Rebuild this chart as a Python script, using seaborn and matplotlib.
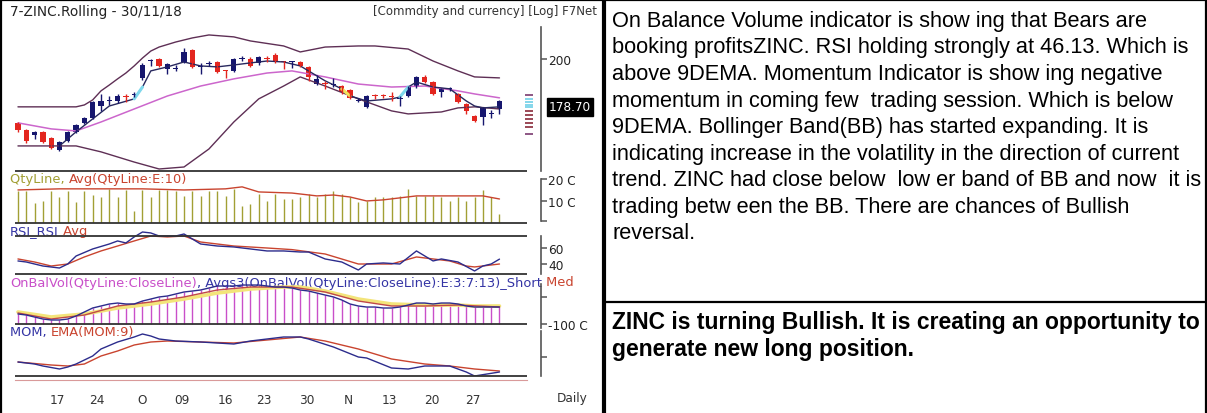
import numpy as np
import pandas as pd
import seaborn as sns
import matplotlib.pyplot as plt
from matplotlib.lines import Line2D
from matplotlib.ticker import NullLocator

W, H = 1207, 414

#%% data (daily candles, 59 sessions)
opens = [168.5, 165.3, 163.1, 164.5, 161.8, 156.7, 160.5, 164.5, 168.5, 170.7,
         176.3, 178.7, 178.7, 181.1, 181.6, 190.1, 198.9, 200.0, 194.7, 194.7,
         198.4, 204.9, 195.8, 197.3, 198.4, 194.2, 193.7, 200.0, 200.0, 197.9,
         200.5, 202.2, 198.9, 198.4, 198.4, 195.8, 187.0, 187.5, 186.5, 186.0,
         184.1, 178.7, 175.9, 181.6, 181.6, 181.1, 179.7, 181.1, 185.5, 190.6,
         188.0, 183.1, 184.6, 182.1, 177.3, 171.7, 171.2, 172.6, 174.9]
highs = [168.9, 165.8, 164.9, 164.9, 162.3, 160.5, 164.9, 168.0, 171.2, 178.7,
         182.1, 181.1, 182.1, 182.1, 183.1, 197.9, 200.0, 200.5, 197.9, 196.8,
         206.0, 205.4, 197.9, 198.9, 198.9, 194.2, 200.5, 201.6, 201.1, 201.6,
         201.6, 203.2, 198.9, 198.9, 198.9, 196.3, 191.6, 188.6, 190.1, 186.5,
         184.6, 180.2, 181.6, 182.1, 182.1, 183.1, 181.1, 186.0, 191.1, 191.6,
         188.6, 185.0, 185.5, 182.6, 177.7, 172.1, 175.9, 174.4, 179.2]
lows = [164.5, 159.7, 161.4, 159.7, 157.1, 156.3, 160.1, 164.0, 168.0, 170.3,
        174.0, 176.8, 177.7, 178.2, 180.6, 189.1, 196.3, 195.8, 192.1, 193.7,
        197.9, 195.2, 192.1, 196.3, 192.6, 190.1, 193.2, 198.9, 195.8, 196.8,
        198.4, 197.9, 194.7, 195.2, 195.8, 188.6, 186.5, 184.6, 185.5, 182.1,
        179.7, 178.2, 175.4, 179.7, 180.2, 178.7, 176.3, 180.6, 185.0, 187.5,
        181.6, 180.6, 183.6, 177.7, 172.6, 168.9, 167.6, 170.7, 172.6]
closes = [165.3, 160.5, 164.5, 160.1, 157.5, 160.1, 164.5, 167.6, 170.7, 178.2,
          178.7, 179.2, 181.1, 180.6, 182.1, 196.8, 199.5, 196.3, 197.3, 195.2,
          203.8, 195.8, 196.3, 197.9, 193.2, 193.7, 200.0, 200.5, 196.3, 201.1,
          200.0, 198.4, 198.4, 198.9, 196.3, 190.6, 189.6, 187.0, 187.0, 183.1,
          180.2, 179.2, 181.1, 181.1, 181.1, 180.6, 180.2, 185.5, 190.6, 188.0,
          182.1, 184.6, 185.0, 178.2, 174.0, 169.4, 175.4, 173.0, 178.7]

# bollinger band + short average (index, value)
bb_up_idx = [0, 7, 8, 9, 10, 11, 12, 13, 14, 15, 16, 17, 19, 21, 23, 26, 28, 32, 34, 37, 41, 43, 47, 50, 53, 55, 58]
bb_up = [175.9, 175.9, 176.8, 179.2, 183.6, 186.5, 189.6, 192.6, 196.3, 200.5, 204.3, 206.5, 209.3,
         211.6, 213.3, 212.2, 209.9, 207.1, 203.8, 206.5, 207.1, 207.1, 205.4, 198.9, 193.7, 190.6, 190.1]
bb_mid_idx = [0, 4, 7, 10, 14, 18, 22, 26, 30, 33, 37, 41, 45, 49, 53, 55, 58]
bb_mid = [168.5, 165.8, 164.9, 168.9, 174.9, 181.1, 186.0, 189.6, 192.6, 193.7, 190.6, 187.0,
          185.5, 186.0, 183.6, 182.1, 180.2]
bb_lo_idx = [0, 7, 10, 14, 17, 20, 23, 26, 29, 32, 34, 37, 41, 45, 47, 51, 53, 55, 58]
bb_lo = [158.4, 158.4, 155.9, 151.7, 148.9, 149.7, 157.1, 168.9, 179.7, 186.0, 190.6, 186.0,
         179.7, 174.0, 172.6, 173.5, 175.4, 175.9, 174.9]
ma_idx = [5, 7, 9, 11, 14, 15, 16, 18, 20, 22, 24, 26, 28, 30, 32, 34, 35, 37, 39, 40, 42, 45,
          46, 47, 48, 50, 52, 54, 55, 56, 58]
ma = [158.4, 164.5, 170.3, 176.3, 179.7, 185.5, 193.7, 195.8, 198.4, 196.3, 195.8, 196.8, 197.9,
      198.9, 198.4, 196.3, 193.7, 188.6, 184.6, 181.1, 178.7, 179.7, 180.6, 185.5, 188.0, 185.5,
      184.6, 178.7, 176.3, 175.4, 175.9]
cyan_spans = [(14, 15), (46, 47)]
yellow_spans = [(39, 40)]

# little level marks next to the price scale
lvl_purple = [181.6, 163.7]
lvl_cyan = [179.7, 178.4, 177.0, 175.6]
lvl_red = [174.0, 172.1, 170.3, 168.5, 166.7]

# quantity (C) and its 10 EMA
qty = [14.5, 14.5, 9, 10, 14.5, 11.8, 14.5, 9.5, 14.5, 12.7,
       11.8, 15.5, 11.8, 15, 5.5, 15, 11.8, 15, 15, 14.5,
       12.3, 14.5, 12.3, 14.5, 14.5, 12.3, 15.5, 7.7, 8.6, 13.2,
       10, 13.2, 10.9, 11, 11.8, 13.2, 11.8, 13.2, 14.5, 13.2,
       11.8, 9.5, 10, 11.8, 11.8, 11.8, 12.3, 15.5, 12.3, 12.3,
       12.3, 11.8, 10, 11.8, 10, 11.8, 15, 11.8, 4]
qty_avg_idx = [0, 5, 10, 15, 20, 25, 27, 29, 33, 36, 38, 40, 42, 44, 46, 48, 52, 56, 58]
qty_avg = [15, 15.5, 15.5, 15.5, 15, 15.5, 16.4, 14.1, 13.6, 12.3, 12.7, 11.8, 10, 10.5, 11.4,
           12.3, 12.3, 12.3, 10.9]

# RSI and its average
rsi_idx = [0, 1, 2, 3, 5, 6, 7, 9, 11, 12, 13, 14, 15, 16, 17, 18, 19, 20, 21, 22, 24, 26, 28,
           30, 32, 34, 35, 37, 39, 41, 42, 44, 46, 48, 50, 51, 53, 55, 56, 57, 58]
rsi = [43.8, 42.5, 40, 37.5, 35, 40, 50, 58.8, 65, 68.8, 66.3, 73.8, 80, 78.8, 75, 75, 75, 77.5,
       71.3, 65, 62.5, 61.3, 58.8, 56.3, 56.3, 55, 55, 46.3, 42.5, 32.5, 40, 41.3, 40, 56.3, 43.8,
       46.3, 42.5, 31.3, 37.5, 40, 46.1]
rsi_avg_idx = [0, 2, 4, 6, 8, 10, 12, 14, 16, 18, 20, 22, 24, 26, 30, 33, 37, 41, 45, 48, 50, 52,
               54, 55, 58]
rsi_avg = [46.3, 42.5, 37.5, 40, 48.8, 56.3, 62.5, 68.8, 75, 73.8, 75, 67.5, 65, 62.5, 60, 58,
           52.5, 40, 40, 48.8, 46.3, 43.8, 37.5, 36.3, 40]

# on balance volume (C) with med / long averages
obv = [-81.5, -83.4, -87.1, -90.8, -92.6, -92.6, -90.8, -85.2, -77.8, -70.4,
       -66.7, -63.0, -61.2, -63.0, -63.0, -57.5, -53.8, -50.0, -48.2, -44.5,
       -40.8, -39.0, -37.1, -33.4, -29.7, -29.7, -29.7, -27.9, -27.9, -27.9,
       -29.7, -31.6, -31.6, -33.4, -37.1, -39.0, -42.7, -46.4, -50.0, -55.6,
       -63.0, -66.7, -68.6, -68.6, -70.4, -70.4, -68.6, -64.9, -61.2, -61.2,
       -63.0, -61.2, -61.2, -63.0, -66.7, -68.6, -68.6, -68.6, -68.6]
obv_long_idx = [0, 4, 8, 12, 16, 20, 24, 28, 32, 34, 37, 41, 45, 49, 53, 55, 58]
obv_long = [-77.8, -87.0, -81.5, -70.4, -63.0, -53.8, -42.7, -35.3, -31.6, -31.6, -39.0, -53.8,
            -63.0, -64.9, -64.9, -66.7, -66.7]
obv_med_idx = [0, 4, 8, 12, 16, 20, 24, 28, 33, 37, 41, 45, 49, 53, 58]
obv_med = [-79.6, -90.8, -83.4, -66.7, -59.3, -50.0, -37.1, -31.6, -31.6, -40.8, -57.5, -66.7,
           -66.7, -64.9, -68.6]

# momentum and its 9 EMA
mom_idx = [0, 2, 3, 5, 6, 7, 9, 10, 12, 14, 15, 16, 17, 19, 22, 24, 26, 28, 30, 32, 34, 35, 38,
           41, 42, 45, 47, 49, 52, 54, 55, 58]
mom = [-2.5, -3.5, -4.5, -6, -5, -3.5, 0.5, 4, 7.5, 10, 11.5, 10.5, 9, 8, 7.5, 7, 6.5, 8, 9, 10,
       10, 9, 5, 0, -0.5, -5.5, -6, -4.5, -4.5, -7.5, -9.5, -7.5]
mom_ema_idx = [0, 4, 6, 8, 10, 12, 14, 16, 18, 22, 26, 30, 34, 37, 41, 45, 49, 52, 55, 58]
mom_ema = [-2.5, -4, -4.5, -3.5, 0.5, 3, 6, 7.5, 8, 7.5, 7, 8.5, 10, 8, 4, -1, -3.5, -4.5, -6, -7]

date_pos = [4.8, 9.5, 15, 19.8, 25, 29.6, 34.8, 39.8, 44.8, 49.9, 54.8]
date_lbl = ["17", "24", "O", "09", "16", "23", "30", "N", "13", "20", "27"]

body_lines = [
    "On Balance Volume indicator is show ing that Bears are",
    "booking profitsZINC. RSI holding strongly at 46.13. Which is",
    "above 9DEMA. Momentum Indicator is show ing negative",
    "momentum in coming few  trading session. Which is below",
    "9DEMA. Bollinger Band(BB) has started expanding. It is",
    "indicating increase in the volatility in the direction of current",
    "trend. ZINC had close below  low er band of BB and now  it is",
    "trading betw een the BB. There are chances of Bullish",
    "reversal.",
]
view_lines = ["ZINC is turning Bullish. It is creating an opportunity to",
              "generate new long position."]

#%% colours
NAVY, RED = "#16166e", "#e3261f"
BB_DARK, BB_MID = "#5e2f55", "#cc66cc"
OLIVE, AVG_RED = "#a29f34", "#c9442f"
MAGENTA, LNAVY = "#c94fc9", "#2c2c8c"
GREY = "#555555"
LBL = 9.4

sns.set_style("white")
plt.rcParams["font.family"] = ["DejaVu Sans"]

fig = plt.figure(figsize=(W / 100, H / 100), dpi=100)


def rect(x0, y0, x1, y1):
    return [x0 / W, 1 - y1 / H, (x1 - x0) / W, (y1 - y0) / H]


def fig_line(x0, x1, y0, y1, color="#333333", lw=1.3):
    fig.add_artist(Line2D([x0 / W, x1 / W], [1 - y0 / H, 1 - y1 / H], color=color, lw=lw,
                          solid_capstyle="butt"))


XLIM = (-1.2, 63.0)


def panel(r, ylim, ticks, labels, bounds, log=False):
    ax = fig.add_axes(r)
    ax.patch.set_alpha(0)
    if log:
        ax.set_yscale("log")
    ax.set_xlim(*XLIM)
    ax.set_ylim(*ylim)
    for s in ["top", "left", "bottom"]:
        ax.spines[s].set_visible(False)
    ax.spines["right"].set_color(GREY)
    ax.spines["right"].set_linewidth(1.2)
    ax.spines["right"].set_bounds(*bounds)
    ax.yaxis.tick_right()
    ax.set_yticks(ticks)
    ax.set_yticklabels(labels)
    ax.yaxis.set_minor_locator(NullLocator())
    ax.set_xticks([])
    ax.tick_params(axis="y", direction="out", length=4, width=1.1, colors=GREY,
                   labelcolor="#222222", labelsize=8.7, pad=1)
    return ax


idx = np.arange(len(closes))

#%% price panel
ax_p = panel(rect(8, 28, 541, 172), (148.1, 217.9), [200], ["200"], (148.1, 217.9), log=True)
sns.lineplot(x=bb_up_idx, y=bb_up, ax=ax_p, color=BB_DARK, lw=1)
sns.lineplot(x=bb_lo_idx, y=bb_lo, ax=ax_p, color=BB_DARK, lw=1)
sns.lineplot(x=bb_mid_idx, y=bb_mid, ax=ax_p, color=BB_MID, lw=1.1)
sns.lineplot(x=ma_idx, y=ma, ax=ax_p, color="#28285e", lw=1)
for a, b in cyan_spans:
    k0, k1 = ma_idx.index(a), ma_idx.index(b)
    ax_p.plot(ma_idx[k0:k1 + 1], ma[k0:k1 + 1], color="#7fd8ec", lw=2.2)
for a, b in yellow_spans:
    k0, k1 = ma_idx.index(a), ma_idx.index(b)
    ax_p.plot(ma_idx[k0:k1 + 1], ma[k0:k1 + 1], color="#f2e25a", lw=2.2)

o, c = np.array(opens), np.array(closes)
up = c >= o
cols = np.where(up, NAVY, RED)
ax_p.vlines(idx, lows, highs, colors=cols, lw=1)
bot = np.minimum(o, c)
hgt = np.maximum(np.abs(c - o), 0.35)
ax_p.bar(idx, hgt, bottom=bot, width=0.64, color=cols, linewidth=0)

ax_p.hlines(lvl_purple, 61.1, 62.0, colors="#7a3a70", lw=1.2)
ax_p.hlines(lvl_cyan, 61.1, 62.0, colors="#6fd0e8", lw=1.2)
ax_p.hlines(lvl_red, 61.1, 62.0, colors="#8a2a3a", lw=1.2)
ax_p.annotate(f"{closes[-1]:.2f}", xy=(1, closes[-1]), xycoords=("axes fraction", "data"),
              xytext=(8, -6), textcoords="offset pixels", ha="left", va="center",
              color="white", fontsize=8.7, annotation_clip=False,
              bbox=dict(boxstyle="square,pad=0.18", fc="black", ec="black"))

#%% quantity panel
ax_q = panel(rect(8, 172, 541, 224), (0, 23.6), [20, 10, 1], ["20 C", "10 C", ""], (1, 20))
ax_q.vlines(idx, 0, qty, colors=OLIVE, lw=1)
sns.lineplot(x=qty_avg_idx, y=qty_avg, ax=ax_q, color=AVG_RED, lw=1)

#%% rsi panel
ax_r = panel(rect(8, 224, 541, 275), (27.5, 91.25), [60, 40], ["60", "40"], (27.5, 75))
sns.lineplot(x=rsi_avg_idx, y=rsi_avg, ax=ax_r, color=AVG_RED, lw=1)
sns.lineplot(x=rsi_idx, y=rsi, ax=ax_r, color=LNAVY, lw=1)

#%% obv panel
ax_o = panel(rect(8, 275, 541, 330), (-109.25, -7.5), [-50, -100], ["", "-100 C"], (-107.4, -26))
ax_o.vlines(idx, -100, obv, colors=MAGENTA, lw=1)
sns.lineplot(x=obv_long_idx, y=obv_long, ax=ax_o, color="#f3e47a", lw=2.6)
sns.lineplot(x=obv_med_idx, y=obv_med, ax=ax_o, color="#c04848", lw=1)
sns.lineplot(x=idx, y=obv, ax=ax_o, color=LNAVY, lw=1)

#%% momentum panel
ax_m = panel(rect(8, 330, 541, 377), (-9.5, 14), [0], [""], (-9.5, 13))
sns.lineplot(x=mom_ema_idx, y=mom_ema, ax=ax_m, color=AVG_RED, lw=1)
sns.lineplot(x=mom_idx, y=mom, ax=ax_m, color=LNAVY, lw=1)

#%% date axis
ax_d = fig.add_axes(rect(8, 380, 541, 381))
ax_d.patch.set_alpha(0)
ax_d.set_xlim(*XLIM)
for s in ["top", "left", "right"]:
    ax_d.spines[s].set_visible(False)
ax_d.spines["bottom"].set_color("#d99a9a")
ax_d.spines["bottom"].set_bounds(-0.36, 61.3)
ax_d.set_yticks([])
ax_d.set_xticks(date_pos)
ax_d.set_xticklabels(date_lbl)
ax_d.tick_params(axis="x", direction="out", length=4, width=1, colors="#d99a9a",
                 labelcolor="#333333", labelsize=8.7, pad=5.5)
fig.text(572 / W, 1 - 399 / H, "Daily", ha="center", va="center", fontsize=8.7, color="#333333")

# separators in the chart half
for yy in [172, 224, 237, 275, 325, 377]:
    fig_line(15, 527, yy, yy)

#%% chart headings
fig.text(10 / W, 1 - 12 / H, "7-ZINC.Rolling - 30/11/18", ha="left", va="center",
         fontsize=9.8, color="#222222")
fig.text(597 / W, 1 - 12 / H, "[Commdity and currency] [Log] F7Net", ha="right", va="center",
         fontsize=8.5, color="#333333")


def multi_label(y, parts):
    t = ax_p.annotate(parts[0][0], xy=(10 / W, 1 - y / H), xycoords="figure fraction",
                      ha="left", va="center", color=parts[0][1], fontsize=LBL,
                      annotation_clip=False)
    for s, col in parts[1:]:
        t = ax_p.annotate(s, xy=(1, 0), xycoords=t, ha="left", va="bottom", color=col,
                          fontsize=LBL, annotation_clip=False)


multi_label(180, [("QtyLine, ", OLIVE), ("Avg(QtyLine:E:10)", AVG_RED)])
multi_label(232, [("RSI_RSI", "#3535a5"), (" Avg", AVG_RED)])
multi_label(283, [("OnBalVol(QtyLine:CloseLine)", MAGENTA),
                  (", Avgs3(OnBalVol(QtyLine:CloseLine):E:3:7:13)_Short", "#3535a5"),
                  (" Med", AVG_RED)])
multi_label(333, [("MOM, ", "#3535a5"), ("EMA(MOM:9)", AVG_RED)])

#%% commentary half
for k, line in enumerate(body_lines):
    fig.text(612 / W, 1 - (26.7 + 26.6 * k) / H, line, ha="left", va="baseline",
             fontsize=15.7, family="Liberation Sans", color="black")
for k, line in enumerate(view_lines):
    fig.text(612 / W, 1 - (329.5 + 26.3 * k) / H, line, ha="left", va="baseline",
             fontsize=16.5, family="Liberation Sans", weight="bold", color="black")

# frame
fig_line(604, 604, 0, H, color="black", lw=3)
fig_line(606, W, 303, 303, color="black", lw=1.6)
fig_line(0, W, 1, 1, color="black", lw=1.6)
fig_line(1, 1, 0, H, color="black", lw=1.6)
fig_line(W - 1, W - 1, 0, H, color="black", lw=1.6)

fig.savefig("out.png", dpi=100, facecolor="white")
